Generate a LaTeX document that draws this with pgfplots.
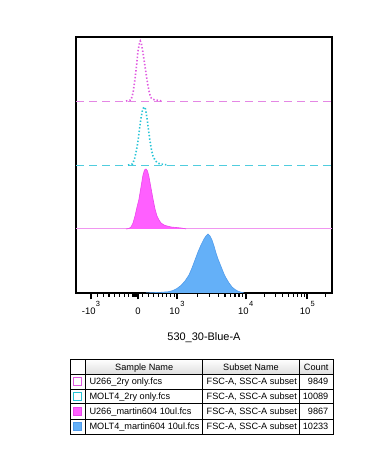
\documentclass[border=0pt]{standalone}
\usepackage{pgfplots}
\pgfplotsset{compat=1.18}
\usepackage{pgfplotstable}
\usepackage{fontspec}
\setmainfont{Liberation Sans}
\definecolor{magDot}{RGB}{224,90,224}
\definecolor{magDash}{RGB}{228,135,228}
\definecolor{cyDot}{RGB}{40,196,214}
\definecolor{cyDash}{RGB}{80,205,222}
\definecolor{magFill}{RGB}{255,95,255}
\definecolor{magEdge}{RGB}{235,70,235}
\definecolor{magBase}{RGB}{240,150,240}
\definecolor{bluFill}{RGB}{100,176,248}
\definecolor{bluEdge}{RGB}{80,155,235}
\definecolor{hdrGray}{RGB}{222,222,222}

% lane 4 (top): U266_2ry only, dotted magenta
\pgfplotstableread{
x h
50 0
55 1
57 8
59 22
60.5 35
62 50
63.5 58
64.3 60
65.5 57
67 48
68.5 38
70 28
71.5 18
73 10
74.5 4
76 2
79 1
83 0.5
86 0
}\laneD
% lane 3: MOLT4_2ry only, dotted cyan
\pgfplotstableread{
x h
52 0
56.5 1
58.5 6
60.5 15
62 24
63.5 36
65 47
66.5 55
68 58
69.5 56
71 47
72.5 35
74 24
75.5 15
77 9
79 5
81 2.5
84 1
88 0.5
92 0
}\laneC
% lane 2: U266_martin604, filled magenta
\pgfplotstableread{
x h
50 0
53 0.5
55 2
57 6
59 13
61 22
63 30
65 42
67 54
68.5 59
70 60
71.5 58
73 52
75 41
77 30
79 20
81 13
83 9
85 6
88 4
91 3
95 2
100 1.5
105 1
108 0.5
110 0
}\laneB
% lane 1: MOLT4_martin604, filled blue
\pgfplotstableread{
x h
70 0
75 0.3
85 0.7
92 1.2
97 2.5
101 4.5
105 7.5
109 12
113 18
116 25
119 33
122 41
125 48
128 54
130 57
132 59
134 57
136 53
138 47
140 40
142 34
144 29
146 24
148 19
150 15
153 10
156 6
159 3.5
162 1.8
165 0.8
168 0
}\laneA

\newcommand{\tsup}[1]{\raisebox{7.5bp}{\fontsize{7.5}{7.5}\selectfont\kern0.4bp #1}}

\begin{document}
\begin{tikzpicture}[x=1bp,y=1bp]
\useasboundingbox (0,0) rectangle (391,463);
\begin{axis}[
  at={(76bp,170bp)}, anchor=south west,
  scale only axis, width=256bp, height=256bp,
  xmin=0, xmax=256, ymin=0, ymax=256,
  ytick=\empty,
  xtick={15,62,101,169.7,231.3},
  xticklabels={-10\tsup{3}, 0, 10\tsup{3}, 10\tsup{4}, 10\tsup{5}},
  minor xtick={21.3,27.7,33,38.3,43.7,48.3,52.3,56.3,57.3,58.2,59,59.8,60.5,61.2,
               66.3,72.3,77.3,82.3,86.3,90.7,94.3,98.3,
               121.7,133.8,142.4,149,154.5,159,163,166.5,
               188.2,199.1,206.8,212.8,217.6,221.8,225.3,228.5,249.8},
  xtick pos=bottom, ytick pos=left, tick align=outside,
  major tick length=6.5bp, minor tick length=4bp,
  major tick style={black, line width=1.7bp},
  minor tick style={black, line width=1.2bp},
  axis line style={line width=1.1bp},
  xticklabel style={font=\fontsize{9.5}{10}\selectfont, anchor=base, yshift=-15bp},
  xlabel={530\_30-Blue-A},
  xlabel style={font=\fontsize{11}{12}\selectfont, at={(axis description cs:0.5,-0.176)}, anchor=center},
]
% lane 1
\addplot[fill=bluFill, draw=bluEdge, line width=0.6bp] table[x=x, y=h] {\laneA};
% lane 2
\addplot[magBase, line width=1bp] coordinates {(0,64) (256,64)};
\addplot[fill=magFill, draw=magEdge, line width=0.6bp] table[x=x, y expr=\thisrow{h}+64] {\laneB};
% lane 3
\addplot[cyDash, line width=0.9bp, dash pattern=on 8bp off 5bp] coordinates {(0,128) (256,128)};
\addplot[cyDot, line width=1.6bp, dash pattern=on 1.4bp off 2bp] table[x=x, y expr=\thisrow{h}+128] {\laneC};
% lane 4
\addplot[magDash, line width=0.9bp, dash pattern=on 8bp off 5bp] coordinates {(0,192) (256,192)};
\addplot[magDot, line width=1.6bp, dash pattern=on 1.4bp off 2bp] table[x=x, y expr=\thisrow{h}+192] {\laneD};
\end{axis}

% legend table
\shade[top color=white, bottom color=hdrGray] (85.7,88.7) rectangle (333,103.7);
\draw[line width=0.9bp] (70,29) rectangle (333,103.7);
\foreach \yy in {88.7,74,59.3,44} \draw[line width=0.8bp] (70,\yy) -- (333,\yy);
\foreach \xx in {85.7,202.7,299.3} \draw[line width=0.8bp] (\xx,29) -- (\xx,103.7);
\begin{scope}[every node/.style={font=\fontsize{9.2}{10}\selectfont, inner sep=0pt}]
\node[anchor=base] at (144.2,92.7) {Sample Name};
\node[anchor=base] at (251,92.7) {Subset Name};
\node[anchor=base] at (316.2,92.7) {Count};
\node[anchor=base west] at (89.3,78) {U266\_2ry only.fcs};
\node[anchor=base west] at (89.3,63.3) {MOLT4\_2ry only.fcs};
\node[anchor=base west] at (89.3,48.3) {U266\_martin604 10ul.fcs};
\node[anchor=base west] at (89.3,33) {MOLT4\_martin604 10ul.fcs};
\foreach \yy in {78,63.3,48.3,33}
  \node[anchor=base west] at (206.5,\yy) {FSC-A, SSC-A subset};
\node[anchor=base east] at (328.5,78) {9849};
\node[anchor=base east] at (328.5,63.3) {10089};
\node[anchor=base east] at (328.5,48.3) {9867};
\node[anchor=base east] at (328.5,33) {10233};
\end{scope}
\draw[magDot, line width=0.9bp, fill=white] (73.5,77.3) rectangle (81.5,85.3);
\draw[cyDot, line width=0.9bp, fill=white] (73.5,62.6) rectangle (81.5,70.6);
\draw[magEdge, line width=0.9bp, fill=magFill] (73.5,47.6) rectangle (81.5,55.6);
\draw[bluEdge, line width=0.9bp, fill=bluFill] (73.5,32.5) rectangle (81.5,40.5);
\end{tikzpicture}
\end{document}
